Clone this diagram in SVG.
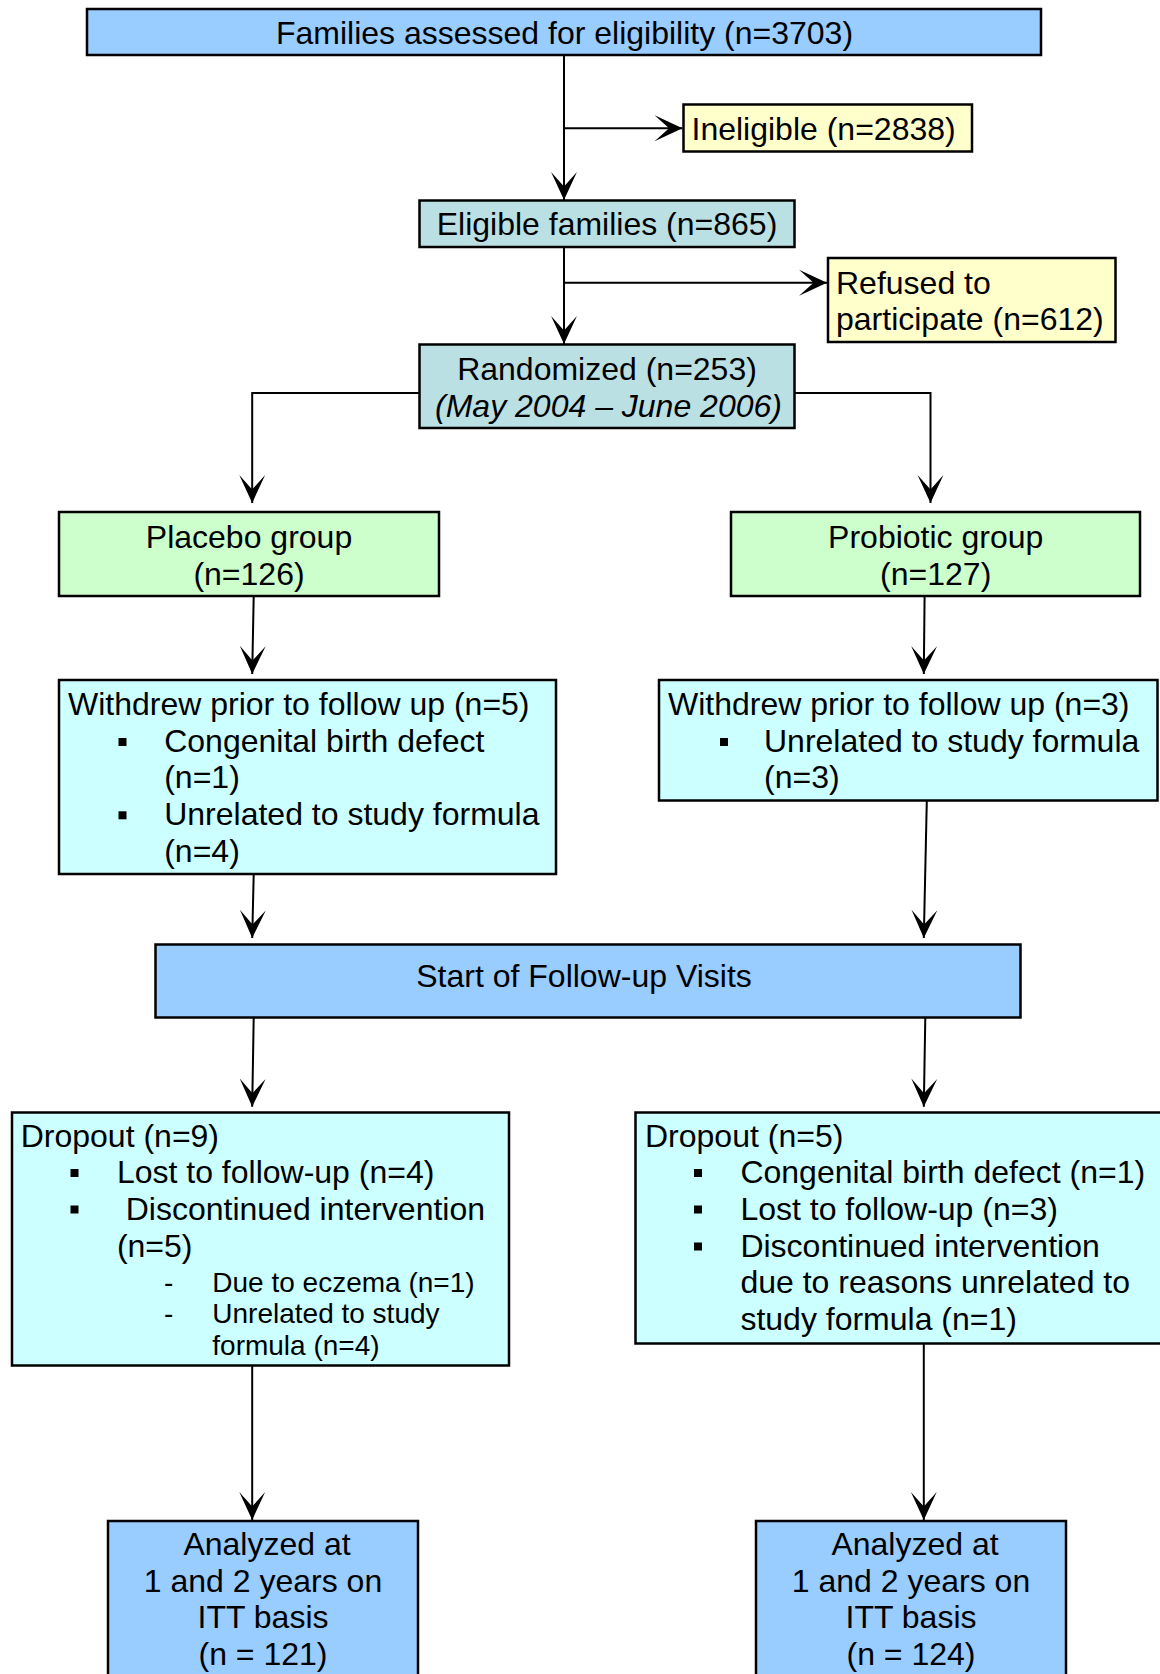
<svg xmlns="http://www.w3.org/2000/svg" width="1160" height="1674" viewBox="0 0 1160 1674">
<defs>
<marker id="arr" markerUnits="userSpaceOnUse" markerWidth="30" markerHeight="30" refX="0" refY="0" viewBox="-28 -14 29 28" orient="auto">
<path d="M0,0 L-27,-12.5 L-13,0 L-27,12.5 Z" fill="#000"/>
</marker>
<style>
.box{stroke:#000;stroke-width:2.5}
.blue{fill:#99CCFF}
.yel{fill:#FFFFCC}
.teal{fill:#BBE0E3}
.grn{fill:#CCFFCC}
.cyan{fill:#CCFFFF}
text{font-family:"Liberation Sans",Arial,sans-serif;font-size:32px;fill:#000}
.m{text-anchor:middle}
.s{font-size:28px}
.c{fill:none;stroke:#000;stroke-width:2;marker-end:url(#arr)}
</style>
</defs>
<rect width="1160" height="1674" fill="#fff"/>

<g id="connectors">
<path class="c" d="M564,55 L564,200"/>
<path class="c" d="M564,128.3 L682.5,128.3"/>
<path class="c" d="M564,247 L564,344"/>
<path class="c" d="M564,282.7 L827,282.7"/>
<path class="c" d="M419.5,393 L252.2,393 L252.2,503"/>
<path class="c" d="M794.5,393 L930.5,393 L930.5,503"/>
<path class="c" d="M253.7,596 L252.2,674"/>
<path class="c" d="M924.6,596 L923.8,674"/>
<path class="c" d="M253.7,874 L252.2,938"/>
<path class="c" d="M926.8,800.7 L923.8,938"/>
<path class="c" d="M253.7,1017 L252.2,1106.7"/>
<path class="c" d="M925.3,1017 L923.8,1106.7"/>
<path class="c" d="M252.2,1365.7 L252.2,1520"/>
<path class="c" d="M923.8,1343 L923.8,1520"/>
</g>

<g id="assessed">
<rect class="box blue" x="87" y="9" width="954" height="46"/>
<text class="m" x="564.5" y="43.5">Families assessed for eligibility (n=3703)</text>
</g>

<g id="ineligible">
<rect class="box yel" x="683.5" y="104.5" width="288.5" height="47"/>
<text x="691.5" y="139.5">Ineligible (n=2838)</text>
</g>

<g id="eligible">
<rect class="box teal" x="419.5" y="200.5" width="375" height="46.5"/>
<text class="m" x="607" y="234.5">Eligible families (n=865)</text>
</g>

<g id="refused">
<rect class="box yel" x="828" y="258" width="287.5" height="84"/>
<text x="836" y="293.5">Refused to</text>
<text x="836" y="330">participate (n=612)</text>
</g>

<g id="randomized">
<rect class="box teal" x="419.5" y="344.5" width="375" height="83.5"/>
<text class="m" x="607" y="380">Randomized (n=253)</text>
<text class="m" x="608.5" y="416.5" font-style="italic">(May 2004 – June 2006)</text>
</g>

<g id="placebo">
<rect class="box grn" x="59" y="512" width="380" height="84"/>
<text class="m" x="249" y="548.2">Placebo group</text>
<text class="m" x="249" y="584.8">(n=126)</text>
</g>

<g id="probiotic">
<rect class="box grn" x="731" y="512" width="409" height="84"/>
<text class="m" x="935.7" y="548.2">Probiotic group</text>
<text class="m" x="935.7" y="584.8">(n=127)</text>
</g>

<g id="withdrew-placebo">
<rect class="box cyan" x="59" y="680" width="497" height="194"/>
<text x="68" y="714.8">Withdrew prior to follow up (n=5)</text>
<rect x="118.5" y="738" width="8" height="8" fill="#000"/>
<text x="164.2" y="751.5">Congenital birth defect</text>
<text x="164.2" y="788.2">(n=1)</text>
<rect x="118.5" y="811.3" width="8" height="8" fill="#000"/>
<text x="164.2" y="824.8">Unrelated to study formula</text>
<text x="164.2" y="861.5">(n=4)</text>
</g>

<g id="withdrew-probiotic">
<rect class="box cyan" x="659" y="680" width="498.5" height="120.5"/>
<text x="668" y="714.8">Withdrew prior to follow up (n=3)</text>
<rect x="720" y="738" width="8" height="8" fill="#000"/>
<text x="764" y="751.5">Unrelated to study formula</text>
<text x="764" y="788.2">(n=3)</text>
</g>

<g id="start">
<rect class="box blue" x="155.5" y="944.5" width="865" height="73"/>
<text class="m" x="584" y="986.5">Start of Follow-up Visits</text>
</g>

<g id="dropout-placebo">
<rect class="box cyan" x="12" y="1112.5" width="497" height="253"/>
<text x="20.7" y="1146.5">Dropout (n=9)</text>
<rect x="70.5" y="1169" width="8" height="8" fill="#000"/>
<text x="116.9" y="1183.2">Lost to follow-up (n=4)</text>
<rect x="70.5" y="1205.5" width="8" height="8" fill="#000"/>
<text x="125.7" y="1219.8">Discontinued intervention</text>
<text x="116.9" y="1256.5">(n=5)</text>
<text class="s" x="164" y="1291.5">-</text>
<text class="s" x="212.3" y="1291.5">Due to eczema (n=1)</text>
<text class="s" x="164" y="1323.2">-</text>
<text class="s" x="212.3" y="1323.2">Unrelated to study</text>
<text class="s" x="212.3" y="1354.9">formula (n=4)</text>
</g>

<g id="dropout-probiotic">
<rect class="box cyan" x="635.5" y="1112.5" width="530" height="231"/>
<text x="645" y="1146.5">Dropout (n=5)</text>
<rect x="694" y="1169" width="8" height="8" fill="#000"/>
<text x="740.4" y="1183.2">Congenital birth defect (n=1)</text>
<rect x="694" y="1205.5" width="8" height="8" fill="#000"/>
<text x="740.4" y="1219.8">Lost to follow-up (n=3)</text>
<rect x="694" y="1242.5" width="8" height="8" fill="#000"/>
<text x="740.4" y="1256.5">Discontinued intervention</text>
<text x="740.4" y="1293.2">due to reasons unrelated to</text>
<text x="740.4" y="1329.8">study formula (n=1)</text>
</g>

<g id="analyzed-placebo">
<rect class="box blue" x="108" y="1521" width="310" height="170"/>
<text class="m" x="267" y="1554.8">Analyzed at</text>
<text class="m" x="263" y="1591.5">1 and 2 years on</text>
<text class="m" x="263" y="1628.2">ITT basis</text>
<text class="m" x="263" y="1664.8">(n = 121)</text>
</g>

<g id="analyzed-probiotic">
<rect class="box blue" x="756" y="1521" width="310" height="170"/>
<text class="m" x="915" y="1554.8">Analyzed at</text>
<text class="m" x="911" y="1591.5">1 and 2 years on</text>
<text class="m" x="911" y="1628.2">ITT basis</text>
<text class="m" x="911" y="1664.8">(n = 124)</text>
</g>
</svg>
